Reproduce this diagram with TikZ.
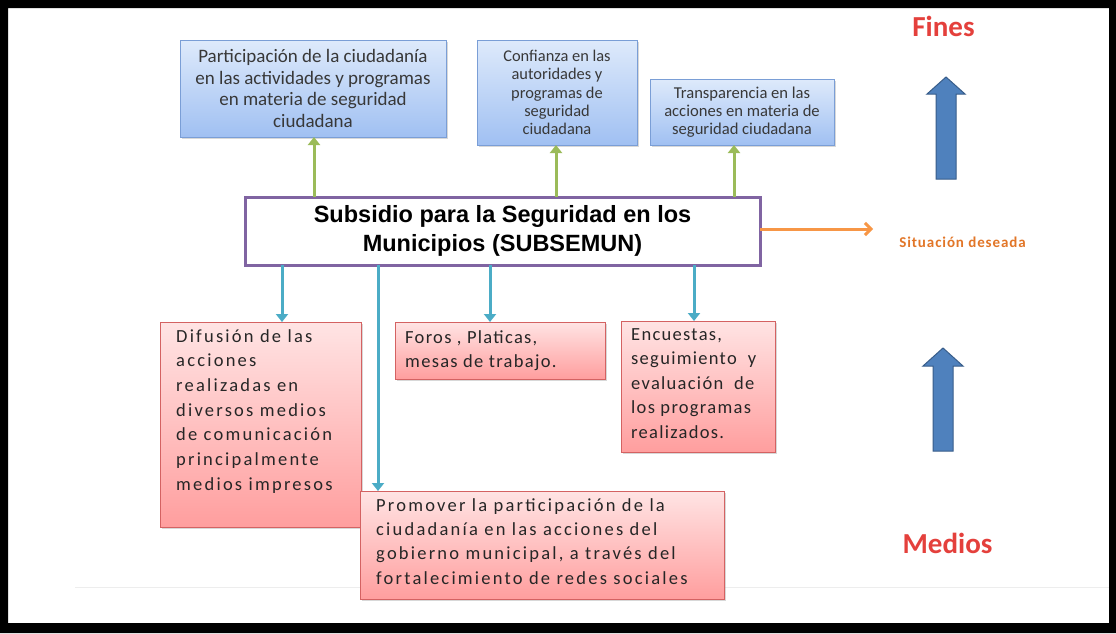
\documentclass[tikz,border=0pt]{standalone}
\usepackage{fontspec}
\setmainfont{Carlito}
\newfontfamily\redA{Carlito}[LetterSpace=12]
\newfontfamily\redB{Carlito}[LetterSpace=7]
\newfontfamily\sitfont{Carlito}[LetterSpace=6]
\newfontfamily\arialfont{Liberation Sans}
\usetikzlibrary{shadows,arrows.meta}
\definecolor{bluebd}{RGB}{122,158,214}
\definecolor{bluetop}{RGB}{222,234,251}
\definecolor{bluebot}{RGB}{160,192,242}
\definecolor{redbd}{RGB}{212,98,98}
\definecolor{redtop}{RGB}{255,228,228}
\definecolor{redbot}{RGB}{255,158,158}
\definecolor{purplebd}{RGB}{128,100,162}
\definecolor{greenln}{RGB}{155,187,89}
\definecolor{cyanln}{RGB}{75,172,198}
\definecolor{orangeln}{RGB}{247,150,70}
\definecolor{orangetx}{RGB}{226,118,40}
\definecolor{bigfill}{RGB}{79,129,189}
\definecolor{bigbd}{RGB}{56,93,138}
\definecolor{titlered}{RGB}{228,64,60}
\begin{document}
\begin{tikzpicture}[x=1pt,y=-1pt,
  bluebox/.style={draw=bluebd, line width=1pt, top color=bluetop, bottom color=bluebot,
    drop shadow={shadow xshift=1.5pt,shadow yshift=-1.5pt,opacity=0.3},
    inner sep=0pt, outer sep=0pt, anchor=north west, align=center, text=black!78},
  redbox/.style={draw=redbd, line width=1pt, top color=redtop, bottom color=redbot,
    drop shadow={shadow xshift=1.5pt,shadow yshift=-1.5pt,opacity=0.3},
    inner sep=0pt, outer sep=0pt, anchor=north west},
  redtext/.style={anchor=north west, inner sep=0pt, align=left, text=black!85},
  greenarrow/.style={draw=greenln, line width=3pt, -{Triangle[width=12pt,length=8pt]}},
  cyanarrow/.style={draw=cyanln, line width=3pt, -{Triangle[width=12pt,length=8pt]}},
  orangearrow/.style={draw=orangeln, line width=3pt, -{Straight Barb[width=12pt,length=6pt]}},
  bigarrow/.style={fill=bigfill, draw=bigbd, line width=1pt},
  titletext/.style={text=titlered, font=\bfseries\fontsize{29}{32}\selectfont, inner sep=0pt}
]
\useasboundingbox (0,0) rectangle (1116,633);
\fill[white] (0,0) rectangle (1116,633);
% faint line
\draw[black!7, line width=1pt] (75,587) -- (1109,587);

% top (fines) boxes
\node[bluebox, minimum width=266pt, minimum height=97pt, font=\fontsize{19}{21.7}\selectfont] (b1) at (180,40)
  {Participación de la ciudadanía\\en las actividades y programas\\en materia de seguridad\\ciudadana};
\node[bluebox, minimum width=160pt, minimum height=105pt, font=\fontsize{16.4}{18.3}\selectfont] (b2) at (477,40)
  {Confianza en las\\autoridades y\\programas de\\seguridad\\ciudadana};
\node[bluebox, minimum width=184pt, minimum height=66pt, font=\fontsize{16.6}{17.8}\selectfont] (b3) at (650,79)
  {Transparencia en las\\acciones en materia de\\seguridad ciudadana};

% main box
\node[draw=purplebd, line width=3pt, fill=white, minimum width=515pt, minimum height=68pt,
  anchor=north west, inner sep=0pt, outer sep=0pt, align=center,
  font=\arialfont\bfseries\fontsize{23.5}{29}\selectfont] (main) at (245,197)
  {Subsidio para la Seguridad en los\\Municipios (SUBSEMUN)};

% bottom (medios) boxes
\node[redbox, minimum width=201pt, minimum height=205pt] (r1) at (160,322) {};
\node[redtext, font=\redA\fontsize{18.5}{24.7}\selectfont] (r1t) at (176,329)
  {Difusión de las\\acciones\\realizadas en\\diversos medios\\de comunicación\\principalmente\\medios impresos};
\node[redbox, minimum width=210pt, minimum height=57pt] (r2) at (395,322) {};
\node[redtext, font=\redB\fontsize{18.5}{24.2}\selectfont] (r2t) at (405,330)
  {Foros , Platicas,\\mesas de trabajo.};
\node[redbox, minimum width=154pt, minimum height=131pt] (r3) at (621,321) {};
\node[redtext, font=\redB\fontsize{18.5}{24.5}\selectfont] (r3t) at (631,328)
  {Encuestas,\\seguimiento~ y\\evaluación~ de\\los programas\\realizados.};
\node[redbox, minimum width=364pt, minimum height=108pt] (r4) at (360,491) {};
\node[redtext, font=\redA\fontsize{18.5}{24.4}\selectfont] (r4t) at (376,498)
  {Promover la participación de la\\ciudadanía en las acciones del\\gobierno municipal, a través del\\fortalecimiento de redes sociales};

% connector x positions
\coordinate (g1) at (314,0);
\coordinate (g2) at (556,0);
\coordinate (g3) at (734,0);
\coordinate (c1) at (282,0);
\coordinate (c2) at (378,0);
\coordinate (c3) at (490,0);
\coordinate (c4) at (694,0);
\coordinate (oend) at (873,229);

\draw[greenarrow] (main.north -| g1) -- (b1.south -| g1);
\draw[greenarrow] (main.north -| g2) -- (b2.south -| g2);
\draw[greenarrow] (main.north -| g3) -- (b3.south -| g3);
\draw[cyanarrow] (main.south -| c1) -- (r1.north -| c1);
\draw[cyanarrow] (main.south -| c2) -- (r4.north -| c2);
\draw[cyanarrow] (main.south -| c3) -- (r2.north -| c3);
\draw[cyanarrow] (main.south -| c4) -- (r3.north -| c4);
\draw[orangearrow] (main.east |- oend) -- (oend);

% right column
\node[text=orangetx, font=\sitfont\bfseries\fontsize{15}{17}\selectfont, inner sep=0pt] (sit) at (962.5,242) {Situación deseada};
\node[titletext] (fines) at (943.5,26) {Fines};
\node[titletext] (medios) at (947.5,543) {Medios};
\draw[bigarrow] (936,179) -- (936,94) -- (927,94) -- (946,77) -- (965,94) -- (956,94) -- (956,179) -- cycle;
\draw[bigarrow] (933,451) -- (933,366) -- (923,366) -- (943,348) -- (963,366) -- (953,366) -- (953,451) -- cycle;

% outer frame
\fill[black, even odd rule] (0,0) rectangle (1116,633) (8,8) rectangle (1109,623);
\end{tikzpicture}
\end{document}
